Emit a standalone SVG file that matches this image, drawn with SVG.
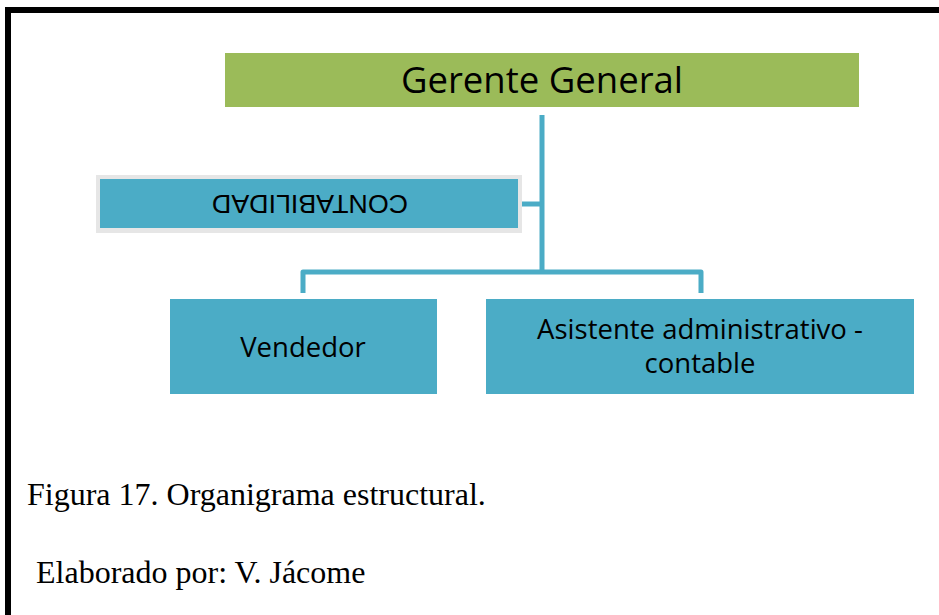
<svg xmlns="http://www.w3.org/2000/svg" width="939" height="615" viewBox="0 0 939 615">
<style>
.blue{fill:#4BACC6}
.conn{stroke:#4BACC6;stroke-width:5;fill:none;stroke-linejoin:round}
.lbl{font-family:"Open Sans","Liberation Sans",sans-serif;fill:#000;text-anchor:middle}
.cap{font-family:"Liberation Serif","Times New Roman",serif;font-size:32px;fill:#000}
</style>
<rect x="0" y="0" width="939" height="615" fill="#fff"/>
<path d="M8 615 V10 H939" fill="none" stroke="#000" stroke-width="6"/>
<g id="connectors">
<path class="conn" d="M542 115 V272"/>
<path class="conn" d="M303 293 V272 H701 V293"/>
<path class="conn" d="M522 204 H542"/>
</g>
<g id="gerente">
<rect x="225" y="53" width="634" height="54" fill="#9BBB59"/>
<text class="lbl" x="542" y="93" font-size="36.5">Gerente General</text>
</g>
<g id="contabilidad">
<rect x="96" y="175" width="426" height="58" fill="#E6E6E6"/>
<rect class="blue" x="100" y="179" width="418" height="49"/>
<text transform="rotate(180 310 204)" x="310" y="213" font-size="25" textLength="196" lengthAdjust="spacingAndGlyphs" style="font-family:'Liberation Sans',Arial,sans-serif;text-anchor:middle;fill:#000">CONTABILIDAD</text>
</g>
<g id="vendedor">
<rect class="blue" x="170" y="299" width="267" height="95"/>
<text class="lbl" x="303" y="357" font-size="27.5">Vendedor</text>
</g>
<g id="asistente">
<rect class="blue" x="486" y="299" width="428" height="95"/>
<text class="lbl" x="700" y="339" font-size="27.5">Asistente administrativo -</text>
<text class="lbl" x="700" y="373" font-size="27.5">contable</text>
</g>
<text class="cap" x="27" y="505">Figura 17. Organigrama estructural.</text>
<text class="cap" x="36" y="583">Elaborado por: V. Jácome</text>
</svg>
